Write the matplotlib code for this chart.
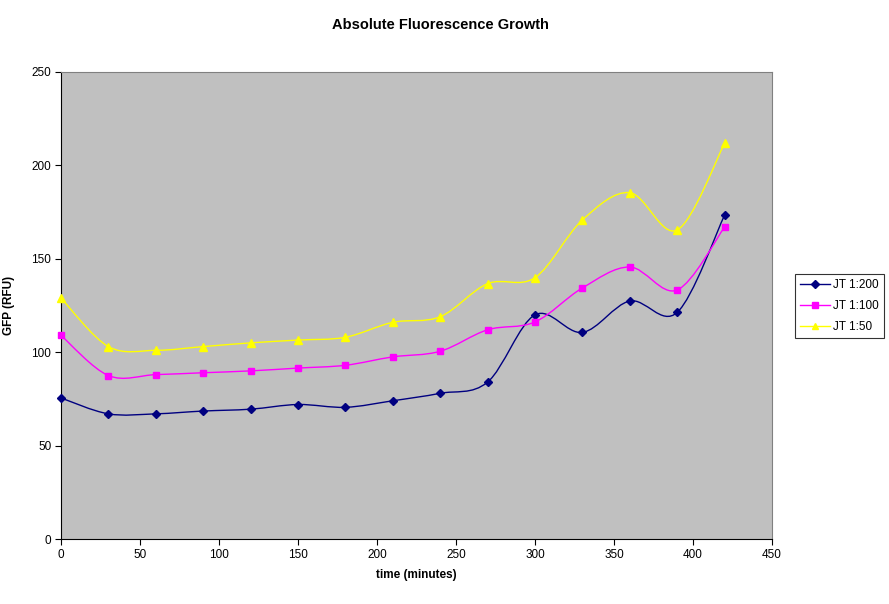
import numpy as np
import matplotlib
matplotlib.use("Agg")
import matplotlib.pyplot as plt
from matplotlib.path import Path
from matplotlib.patches import PathPatch
from matplotlib.lines import Line2D

plt.rcParams['font.family'] = ['Liberation Sans', 'DejaVu Sans']

time = [0, 30, 60, 90, 120, 150, 180, 210, 240, 270, 300, 330, 360, 390, 420]
jt200 = [75.5, 67, 67, 68.5, 69.5, 72, 70.5, 74, 78, 84, 120, 110.6, 127.4, 121.3, 173.4]
jt100 = [109, 87.5, 88, 89, 90, 91.5, 93, 97.5, 100.5, 112, 116.2, 134.4, 145.6, 133.3, 167]
jt50 = [129, 103, 101, 103, 105, 106.5, 108, 116, 119, 136.7, 139.9, 170.8, 185.4, 165.4, 211.8]

series = [
    ("JT 1:200", jt200, "#000080", "D", 4.5),
    ("JT 1:100", jt100, "#FF00FF", "s", 5),
    ("JT 1:50", jt50, "#FFFF00", "^", 5.5),
]

fig = plt.figure(figsize=(8.89, 6.04), dpi=100)
ax = fig.add_axes([61/889, 1-539/604, (772-61)/889, (539-72)/604])
ax.set_facecolor("#C0C0C0")


def smooth_path(x, y):
    x = np.asarray(x, float)
    y = np.asarray(y, float)
    n = len(x)
    verts = [(x[0], y[0])]
    codes = [Path.MOVETO]
    for i in range(n - 1):
        p0 = np.array([x[max(i-1, 0)], y[max(i-1, 0)]])
        p1 = np.array([x[i], y[i]])
        p2 = np.array([x[i+1], y[i+1]])
        p3 = np.array([x[min(i+2, n-1)], y[min(i+2, n-1)]])
        c1 = p1 + (p2 - p0) / 6.0
        c2 = p2 - (p3 - p1) / 6.0
        verts += [tuple(c1), tuple(c2), tuple(p2)]
        codes += [Path.CURVE4] * 3
    return Path(verts, codes)

handles = []
for name, vals, col, mk, ms in series:
    patch = PathPatch(smooth_path(time, vals), facecolor="none", edgecolor=col, lw=1.0, zorder=2)
    ax.add_patch(patch)
    ax.plot(time, vals, linestyle="none", marker=mk, color=col, markersize=ms, zorder=3, clip_on=False)
    handles.append(Line2D([], [], color=col, marker=mk, markersize=ms - 0.5, lw=1.0, label=name))

ax.set_xlim(0, 450)
ax.set_ylim(0, 250)
ax.set_xticks(range(0, 451, 50))
ax.set_yticks(range(0, 251, 50))
ax.tick_params(direction="out", length=4, labelsize=8.5, colors="black", pad=3)
for s in ["top", "right"]:
    ax.spines[s].set_color("#808080")
for s in ["left", "bottom"]:
    ax.spines[s].set_color("black")

ax.set_xlabel("time (minutes)", fontsize=8.5, fontweight="bold", labelpad=6)
ax.set_ylabel("GFP (RFU)", fontsize=8.5, fontweight="bold", labelpad=12)
fig.text(440/889, 1-25/604, "Absolute Fluorescence Growth", ha="center", va="center",
         fontsize=10.5, fontweight="bold")

leg = fig.legend(handles=handles, loc="upper left", bbox_to_anchor=(795/889, 1-274/604),
                 fontsize=8.5, frameon=True, fancybox=False, edgecolor="black",
                 handlelength=2.5, borderpad=0.45, labelspacing=0.75, handletextpad=0.3,
                 borderaxespad=0)
leg.get_frame().set_linewidth(0.8)

fig.savefig("out.png", dpi=100)
